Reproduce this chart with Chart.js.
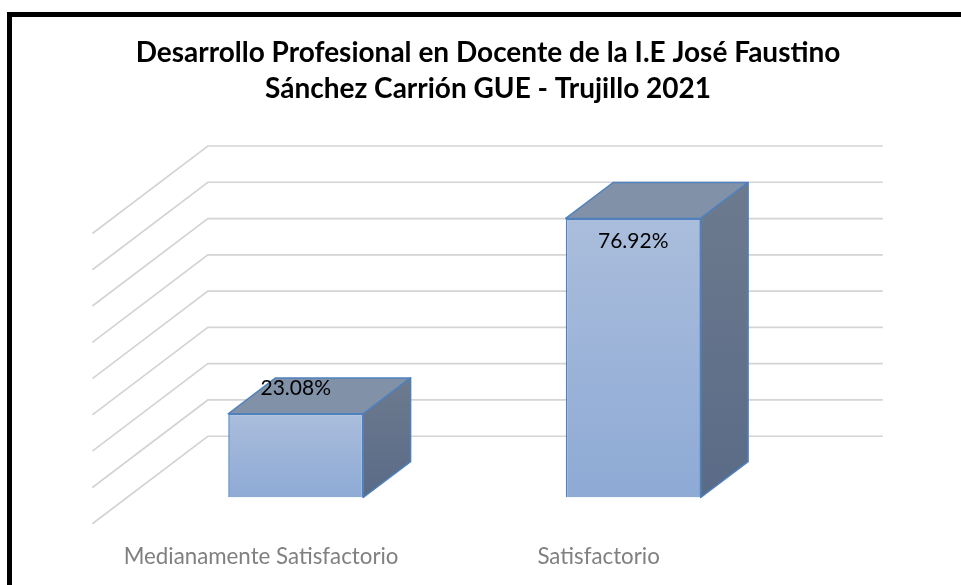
<!DOCTYPE html>
<html lang="es">
<head>
<meta charset="utf-8">
<title>Desarrollo Profesional en Docente</title>
<script src="https://cdn.jsdelivr.net/npm/chart.js@4/dist/chart.umd.min.js"></script>
<style>
  html, body { margin: 0; padding: 0; background: #fff; }
  #grafico { display: block; }
</style>
</head>
<body>
<canvas id="grafico" width="961" height="585"></canvas>
<script>
const categorias = ['Medianamente Satisfactorio', 'Satisfactorio'];
const porcentajes = [23.08, 76.92];
const etiquetasValor = ['23.08%', '76.92%'];
const marcasEje = [0, 10, 20, 30, 40, 50, 60, 70, 80];
const tituloLineas = [
  'Desarrollo Profesional en Docente de la I.E José Faustino',
  'Sánchez Carrión GUE - Trujillo 2021'
];

// perspectiva oblicua del 3D: vector de profundidad completo (frente -> fondo)
const PROF = { x: 115.5, y: -87.5 };
const FRENTE_BARRA = 0.3;
const FONDO_BARRA = 0.71;
const ajusteEtiquetas = [-19, 30];

const AZUL_BORDE = '#4f81bd';
const GRIS_REJILLA = '#d4d4d4';

function caraFrontal(c) {
  const ys = c.chart.scales.y;
  if (!ys || c.raw == null) return '#9fb4da';
  const top = ys.getPixelForValue(c.raw);
  const base = ys.getPixelForValue(0);
  if (!Number.isFinite(top) || !Number.isFinite(base) || top === base) return '#9fb4da';
  const g = c.chart.ctx.createLinearGradient(0, top, 0, base);
  g.addColorStop(0, '#aabddc');
  g.addColorStop(1, '#8eaad5');
  return g;
}

function poligono(ctx, pts, relleno) {
  ctx.beginPath();
  ctx.moveTo(pts[0][0], pts[0][1]);
  pts.slice(1).forEach((p) => ctx.lineTo(p[0], p[1]));
  ctx.closePath();
  ctx.fillStyle = relleno;
  ctx.fill();
  ctx.stroke();
}

const efecto3d = {
  id: 'efecto3d',
  beforeDraw(chart) {
    const { ctx } = chart;
    ctx.save();
    ctx.fillStyle = '#000';
    ctx.fillRect(7, 12, 5, chart.height - 12);
    ctx.fillRect(7, 12, chart.width - 7, 5);
    ctx.restore();
  },
  beforeDatasetsDraw(chart) {
    const { ctx, chartArea } = chart;
    const ys = chart.scales.y;
    const atras = { x: (1 - FRENTE_BARRA) * PROF.x, y: (1 - FRENTE_BARRA) * PROF.y };
    const delante = { x: -FRENTE_BARRA * PROF.x, y: -FRENTE_BARRA * PROF.y };
    ctx.save();
    ctx.strokeStyle = GRIS_REJILLA;
    ctx.lineWidth = 1.7;
    marcasEje.forEach((v) => {
      const y = ys.getPixelForValue(v);
      ctx.beginPath();
      ctx.moveTo(chartArea.left + delante.x, y + delante.y);
      ctx.lineTo(chartArea.left + atras.x, y + atras.y);
      ctx.lineTo(chartArea.right + atras.x, y + atras.y);
      ctx.stroke();
    });
    ctx.restore();
  },
  afterDatasetsDraw(chart) {
    const { ctx } = chart;
    const dx = (FONDO_BARRA - FRENTE_BARRA) * PROF.x;
    const dy = (FONDO_BARRA - FRENTE_BARRA) * PROF.y;
    const meta = chart.getDatasetMeta(0);
    ctx.save();
    ctx.strokeStyle = AZUL_BORDE;
    ctx.lineWidth = 1.5;
    ctx.lineJoin = 'round';
    meta.data.forEach((barra) => {
      const { x, y, base, width } = barra.getProps(['x', 'y', 'base', 'width'], true);
      const x0 = x - width / 2;
      const x1 = x + width / 2;
      poligono(ctx, [[x0, y], [x1, y], [x1 + dx, y + dy], [x0 + dx, y + dy]], '#8191a8');
      const lado = ctx.createLinearGradient(0, y + dy, 0, base);
      lado.addColorStop(0, '#6d7a8e');
      lado.addColorStop(1, '#5a6b87');
      poligono(ctx, [[x1, y], [x1 + dx, y + dy], [x1 + dx, base + dy], [x1, base]], lado);
    });
    ctx.fillStyle = '#000';
    ctx.font = '21px Lato';
    ctx.textAlign = 'center';
    ctx.textBaseline = 'alphabetic';
    meta.data.forEach((barra, i) => {
      const { x, y } = barra.getProps(['x', 'y'], true);
      ctx.fillText(etiquetasValor[i], x, y + ajusteEtiquetas[i]);
    });
    ctx.restore();
  }
};

new Chart(document.getElementById('grafico'), {
  type: 'bar',
  data: {
    labels: categorias,
    datasets: [{
      data: porcentajes,
      backgroundColor: caraFrontal,
      borderColor: AZUL_BORDE,
      borderWidth: 1.5,
      categoryPercentage: 0.8,
      barPercentage: 0.5
    }]
  },
  options: {
    responsive: false,
    animation: false,
    devicePixelRatio: 1,
    layout: { padding: { left: 15, right: 0, top: 0, bottom: 0 } },
    plugins: {
      legend: { display: false },
      tooltip: { enabled: false },
      title: {
        display: true,
        text: tituloLineas,
        color: '#000',
        font: { family: 'Lato', weight: 'bold', size: 28, lineHeight: 1.271 },
        padding: { top: 35.1, bottom: 100.95 }
      }
    },
    scales: {
      x: {
        position: 'bottom',
        grid: { display: false },
        border: { display: false },
        ticks: {
          color: '#808080',
          font: { family: 'Lato', size: 22.3 },
          padding: 38,
          labelOffset: -FRENTE_BARRA * PROF.x,
          maxRotation: 0,
          autoSkip: false
        },
        afterFit(s) { s.height = 87.5; }
      },
      y: {
        position: 'left',
        min: 0,
        max: 80,
        ticks: { display: false, stepSize: 10 },
        grid: { display: false },
        border: { display: false },
        afterFit(s) { s.width = 112; }
      },
      derecha: {
        type: 'linear',
        position: 'right',
        ticks: { display: false },
        grid: { display: false },
        border: { display: false },
        afterFit(s) { s.width = 159; }
      }
    }
  },
  plugins: [efecto3d]
});
</script>
</body>
</html>
